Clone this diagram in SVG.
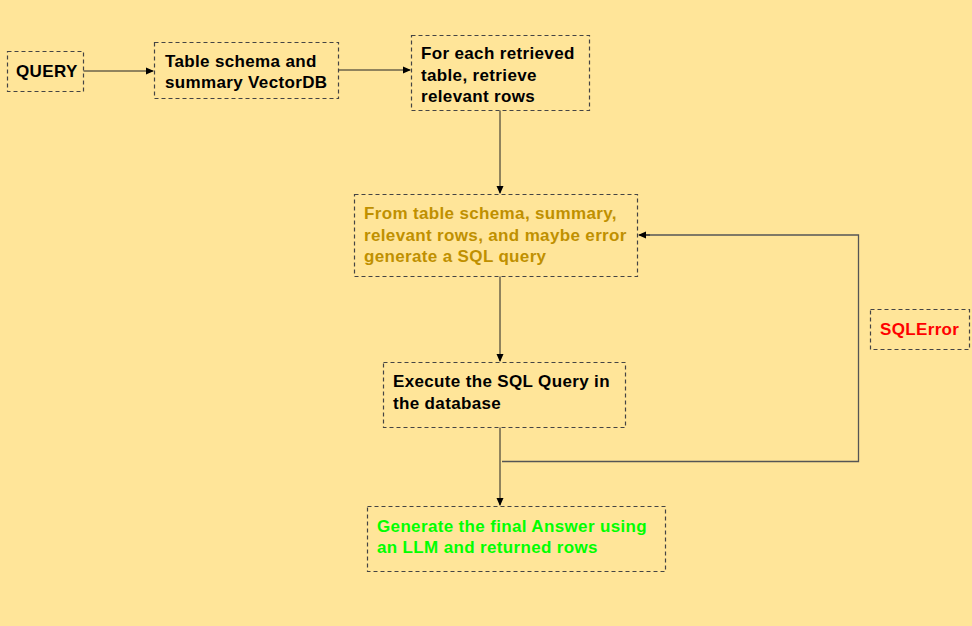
<svg xmlns="http://www.w3.org/2000/svg" width="972" height="626" viewBox="0 0 972 626">
<style>
.box{fill:#FFE599;stroke:#444;stroke-width:1.2;stroke-dasharray:4 3}
text{font-family:"Liberation Sans",Arial,sans-serif;font-size:17px;font-weight:bold;fill:#000;letter-spacing:0.35px}
.gold{fill:#BF9000}
.green{fill:#00FF00}
.red{fill:#FF0000}
.edge{fill:none;stroke:#222;stroke-width:1}
.fb{fill:none;stroke:#555;stroke-width:1.3}
</style>
<defs>
<marker id="arr" markerWidth="8" markerHeight="8" refX="7" refY="4" orient="auto" markerUnits="userSpaceOnUse">
<path d="M0,0.5 L8,4 L0,7.5 Z" fill="#000"/>
</marker>
</defs>
<rect width="972" height="626" fill="#FFE599"/>
<g id="connectors">
<path class="edge" d="M83,71 H153" marker-end="url(#arr)"/>
<path class="edge" d="M338,70 H410" marker-end="url(#arr)"/>
<path class="edge" d="M500,110 V193" marker-end="url(#arr)"/>
<path class="edge" d="M500,276 V361" marker-end="url(#arr)"/>
<path class="edge" d="M500,427 V505" marker-end="url(#arr)"/>
<path class="fb" d="M502,461.5 H858.5 V235 H640"/>
<path class="edge" d="M650,235 H639" marker-end="url(#arr)"/>
</g>
<g id="query">
<rect class="box" x="7.5" y="51.5" width="76" height="40"/>
<text x="16" y="77">QUERY</text>
</g>
<g id="vectordb">
<rect class="box" x="154.5" y="42.5" width="184" height="56"/>
<text x="165" y="67">Table schema and</text>
<text x="165" y="88">summary VectorDB</text>
</g>
<g id="retrieve">
<rect class="box" x="411.5" y="35.5" width="178" height="75"/>
<text x="421" y="59">For each retrieved</text>
<text x="421" y="81">table, retrieve</text>
<text x="421" y="102">relevant rows</text>
</g>
<g id="generate-sql">
<rect class="box" x="354.5" y="194.5" width="283" height="82"/>
<text class="gold" x="364" y="219">From table schema, summary,</text>
<text class="gold" x="364" y="241">relevant rows, and maybe error</text>
<text class="gold" x="364" y="262">generate a SQL query</text>
</g>
<g id="execute">
<rect class="box" x="383.5" y="362.5" width="242" height="65"/>
<text x="393" y="387">Execute the SQL Query in</text>
<text x="393" y="409">the database</text>
</g>
<g id="answer">
<rect class="box" x="367.5" y="506.5" width="298" height="65"/>
<text class="green" x="377" y="532">Generate the final Answer using</text>
<text class="green" x="377" y="553">an LLM and returned rows</text>
</g>
<g id="sqlerror">
<rect class="box" x="870.5" y="309.5" width="99" height="40"/>
<text class="red" x="880" y="335">SQLError</text>
</g>
</svg>
